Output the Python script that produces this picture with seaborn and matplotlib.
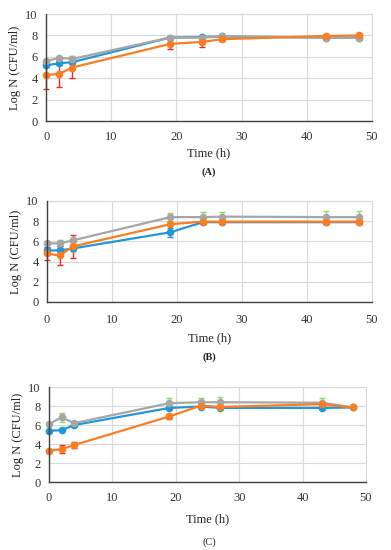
import matplotlib
matplotlib.use("Agg")
import matplotlib.pyplot as plt
import seaborn as sns
import numpy as np
import pandas as pd

sns.set_theme(style="white")
plt.rcParams['font.family'] = ['Liberation Serif', 'DejaVu Serif']

time_h = [0, 2, 4, 19, 24, 27, 43, 48]

# Panel A
a_blue = [5.2, 5.4, 5.5, 7.8, 7.85, 7.9, 7.8, 7.8]
a_blue_err = [0.15, 0.15, 0.2, 0.1, 0.1, 0.1, 0.1, 0.1]
a_orange = [4.3, 4.4, 5.0, 7.2, 7.4, 7.65, 7.95, 8.0]
a_orange_err = [1.3, 1.2, 1.0, 0.5, 0.45, 0.15, 0.1, 0.1]
a_gray = [5.6, 5.9, 5.8, 7.8, 7.8, 7.9, 7.8, 7.8]
a_gray_err = [0.1, 0.1, 0.3, 0.1, 0.1, 0.1, 0.1, 0.1]

# Panel B
b_blue = [5.1, 5.1, 5.3, 6.9, 7.9, 7.9, 7.9, 7.9]
b_blue_err = [0.2, 0.2, 0.3, 0.45, 0.15, 0.15, 0.15, 0.15]
b_orange = [4.8, 4.6, 5.5, 7.7, 7.95, 7.95, 7.95, 7.95]
b_orange_err = [0.6, 0.9, 1.1, 0.1, 0.1, 0.1, 0.1, 0.1]
b_gray = [5.8, 5.8, 6.1, 8.4, 8.4, 8.45, 8.4, 8.4]
b_gray_err = [0.1, 0.3, 0.2, 0.4, 0.5, 0.5, 0.6, 0.6]

# Panel C
c_blue = [5.4, 5.45, 6.0, 7.8, 7.95, 7.8, 7.8, 7.85]
c_blue_err = [0.1, 0.1, 0.15, 0.1, 0.1, 0.1, 0.1, 0.1]
c_orange = [3.3, 3.45, 3.9, 6.9, 8.05, 7.9, 8.2, 7.85]
c_orange_err = [0.1, 0.4, 0.35, 0.3, 0.1, 0.1, 0.1, 0.1]
c_gray = [6.1, 6.8, 6.2, 8.3, 8.4, 8.4, 8.35, 7.85]
c_gray_err = [0.1, 0.45, 0.15, 0.55, 0.4, 0.5, 0.45, 0.1]

panel_labels = ["(A)", "(B)", "(C)"]
xlabel = "Time (h)"
ylabel = "Log N (CFU/ml)"

BLUE = "#2196D9"
ORANGE = "#FA7D22"
GRAY = "#A6A6A6"
BLUE_ERR = "#2196D9"
ORANGE_ERR = "#F0282D"
GRAY_ERR = "#8EDC5A"

fig = plt.figure(figsize=(3.91, 5.5), dpi=100)
rects = [
    [0.118, 0.780, 0.833, 0.1945],
    [0.120, 0.451, 0.831, 0.1836],
    [0.125, 0.1236, 0.811, 0.1727],
]
label_y = [1 - 172/550, 1 - 357/550, 1 - 542/550]
xtick_pad = [7.5, 9, 7.5]
xlabel_pad = [2.5, 4, 6.5]

panels = [
    [(a_blue, a_blue_err, BLUE, BLUE_ERR), (a_gray, a_gray_err, GRAY, GRAY_ERR), (a_orange, a_orange_err, ORANGE, ORANGE_ERR)],
    [(b_blue, b_blue_err, BLUE, BLUE_ERR), (b_gray, b_gray_err, GRAY, GRAY_ERR), (b_orange, b_orange_err, ORANGE, ORANGE_ERR)],
    [(c_blue, c_blue_err, BLUE, BLUE_ERR), (c_gray, c_gray_err, GRAY, GRAY_ERR), (c_orange, c_orange_err, ORANGE, ORANGE_ERR)],
]

for i, (rect, series) in enumerate(zip(rects, panels)):
    ax = fig.add_axes(rect)
    for vals, errs, col, ecol in series:
        eb = ax.errorbar(time_h, vals, yerr=errs, fmt="none", ecolor=ecol,
                         elinewidth=1.0, capsize=2.2, capthick=1.0, zorder=2)
        for art in eb.get_children():
            art.set_clip_on(False)
        df = pd.DataFrame({"t": time_h, "v": vals})
        sns.lineplot(data=df, x="t", y="v", ax=ax, color=col, lw=1.6,
                     marker="o", markersize=5.5, markeredgewidth=0,
                     markeredgecolor=col, zorder=3, clip_on=False)
    ax.set_xlim(0, 50)
    ax.set_ylim(0, 10)
    ax.set_xticks(range(0, 51, 10))
    ax.set_yticks(range(0, 11, 2))
    ax.grid(True, color="#D9D9D9", lw=0.8)
    ax.set_axisbelow(True)
    for s in ["top", "right"]:
        ax.spines[s].set_color("#D9D9D9")
        ax.spines[s].set_linewidth(0.8)
    for s in ["left", "bottom"]:
        ax.spines[s].set_color("#404040")
        ax.spines[s].set_linewidth(1.0)
        ax.spines[s].set_zorder(5)
    ax.tick_params(axis="y", length=0, labelsize=9, colors="#333333", pad=6)
    ax.tick_params(axis="x", length=0, labelsize=9, colors="#333333", pad=xtick_pad[i])
    ax.set_xlabel(xlabel, fontsize=9, labelpad=xlabel_pad[i], color="#222222")
    ax.set_ylabel(ylabel, fontsize=9, labelpad=3, color="#222222")
    fig.text(0.535, label_y[i], panel_labels[i], ha="center", va="center",
             fontsize=7.5, fontweight="bold" if i < 2 else "normal", color="#222222")

fig.savefig("out.png", dpi=100)
